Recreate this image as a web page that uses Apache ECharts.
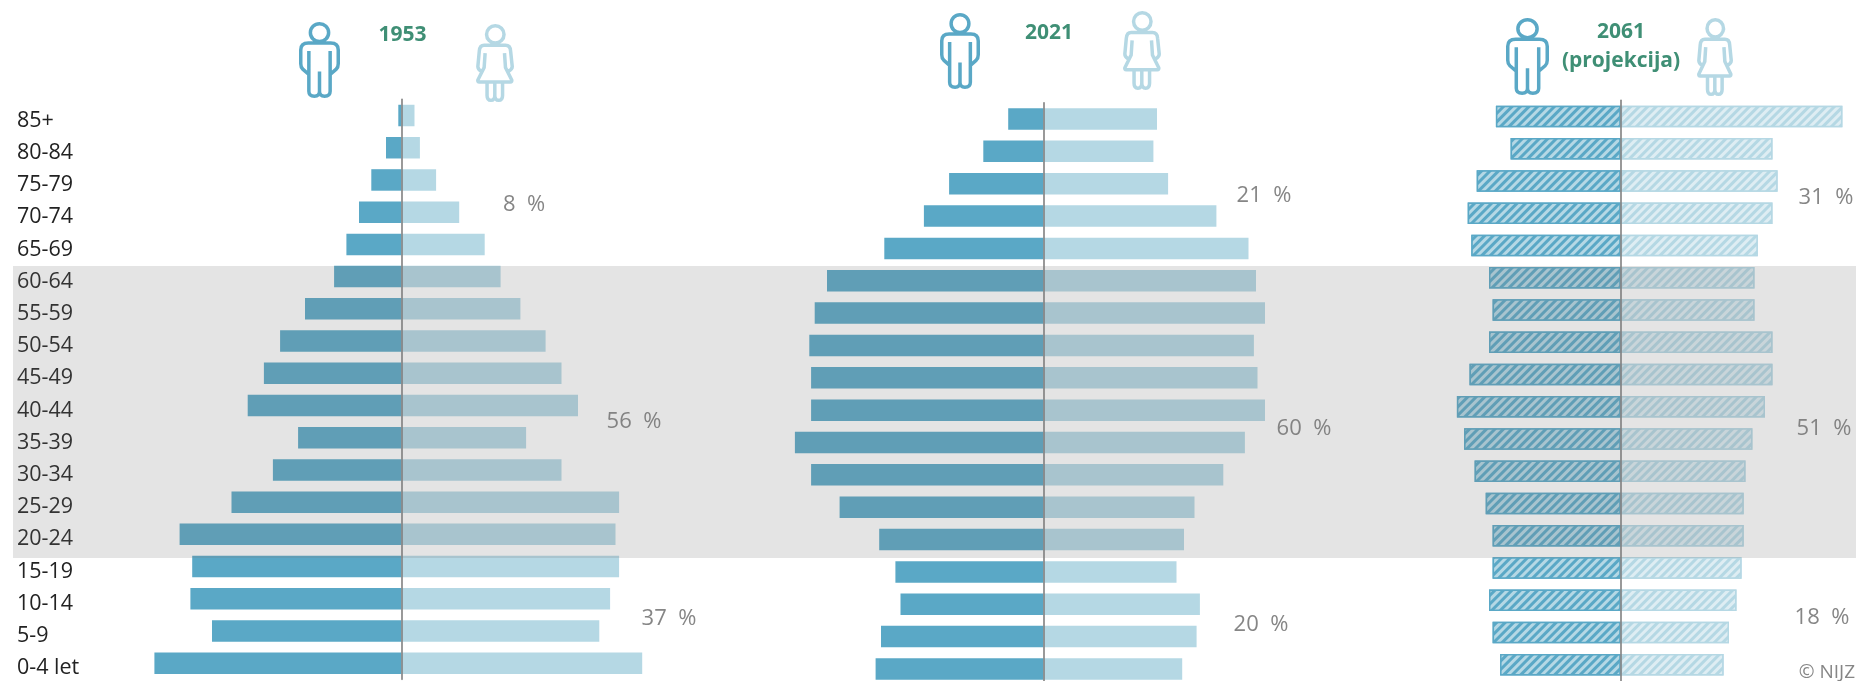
<!DOCTYPE html>
<html>
<head>
<meta charset="utf-8">
<title>Starostne piramide</title>
<style>
html, body { margin: 0; padding: 0; background: #fff; }
#chart { width: 1856px; height: 681px; }
</style>
<script src="https://cdn.jsdelivr.net/npm/echarts@6/dist/echarts.min.js"></script>
</head>
<body>
<div id="chart"></div>
<script>
// starostne skupine, od zgoraj navzdol
var ageGroups = ["85+", "80-84", "75-79", "70-74", "65-69", "60-64", "55-59", "50-54", "45-49",
    "40-44", "35-39", "30-34", "25-29", "20-24", "15-19", "10-14", "5-9", "0-4 let"];

// odčitano s slike, v tisočih prebivalcev
var men1953 = [1.0, 5.1, 10, 14.1, 18.3, 22.4, 32.1, 40.4, 45.8, 51.2, 34.4, 42.8, 56.6, 73.9, 69.7, 70.3, 63.1, 82.3];
var women1953 = [4.4, 6.2, 11.6, 19.3, 27.8, 33.1, 39.7, 48.1, 53.4, 58.9, 41.6, 53.4, 72.6, 71.4, 72.6, 69.6, 66, 80.3];
var men2021 = [11.7, 20, 31.4, 39.8, 53, 72.1, 76.2, 78, 77.4, 77.4, 82.8, 77.4, 67.9, 54.7, 49.3, 47.6, 54.1, 55.9];
var women2021 = [37.9, 36.7, 41.6, 57.7, 68.4, 70.9, 73.9, 70.2, 71.4, 73.9, 67.2, 60, 50.4, 46.9, 44.4, 52.2, 51.1, 46.3];
var men2061 = [41.6, 36.7, 48, 51, 49.8, 43.9, 42.7, 43.9, 50.4, 54.6, 52.2, 48.7, 45, 42.7, 42.7, 43.9, 42.7, 40.2];
var women2061 = [73.9, 50.6, 52.3, 50.6, 45.7, 44.6, 44.6, 50.6, 50.6, 48.1, 43.9, 41.6, 41, 41, 40.3, 38.6, 36.1, 34.3];

var shareLabels = ["8  %", "56  %", "37  %", "21  %", "60  %", "20  %", "31  %", "51  %", "18  %"];
var yearLabels = ["1953", "2021", "2061", "(projekcija)"];

var FONT = '"Open Sans", "Noto Sans", sans-serif';
var MAN_COLOR = "#5aa8c6";
var WOMAN_COLOR = "#b5d8e4";
var UNIT_PX = 3;  // 1 tisoč = 3 px, enako na vseh treh piramidah
var HALF_RANGE = 90;

var MAN_PATH = "M29 10.5a9 9 0 1 1-18 0a9 9 0 1 1 18 0Z" +
    "M9.5 53L3.5 47.5Q1.5 45.5 1.5 42L1.5 28Q1.5 21 9 21L31 21Q38.5 21 38.5 28L38.5 42Q38.5 45.5 36.5 47.5L30.5 53" +
    "L30.5 70Q30.5 75 25 75Q20 75 20 70Q20 75 15 75Q9.5 75 9.5 70Z" +
    "M9.5 29V53M30.5 29V53M20 50V70";
var WOMAN_PATH = "M28.5 9.7a9 9 0 1 1-18 0a9 9 0 1 1 18 0Z" +
    "M8 21L30 21Q35 21 35.3 27L37 43Q37 46 33 48M8 21Q3.5 21 3 27L1.5 43Q1.5 46 5 48" +
    "M9 29L8 44L1.5 57Q1 59 3 59L35 59Q37 59 36.5 57L30 44L29 29" +
    "M11 59V73Q11 78 15 78Q19 78 19 73V59M19 73Q19 78 23 78Q27 78 27 73V59";

var panels = [
    {men: men1953, women: women1953, axisX: 401.3, top: 99.4, rowH: 32.22},
    {men: men2021, women: women2021, axisX: 1043.3, top: 102.8, rowH: 32.35},
    {men: men2061, women: women2061, axisX: 1620.7, top: 100.4, rowH: 32.25, hatched: true}
];

function negate(list) {
    return list.map(function (v) { return -v; });
}

function barStyle(color, hatched) {
    var style = {color: color};
    if (hatched) {
        style.borderColor = color;
        style.borderWidth = 1.5;
        style.decal = {
            symbol: "rect",
            color: "rgba(255,255,255,0.55)",
            dashArrayX: [1, 0],
            dashArrayY: [2.7, 2.5],
            rotation: -Math.PI / 4
        };
    }
    return style;
}

var grids = [], xAxes = [], yAxes = [], seriesList = [];
panels.forEach(function (p, i) {
    var gridLeft = p.axisX - HALF_RANGE * UNIT_PX;
    grids.push({
        outerBoundsMode: "none",  // echarts 6 sicer skrči mrežo zaradi oznak
        left: gridLeft,
        top: p.top,
        width: 2 * HALF_RANGE * UNIT_PX,
        height: p.rowH * ageGroups.length
    });
    xAxes.push({gridIndex: i, type: "value", min: -HALF_RANGE, max: HALF_RANGE, show: false});
    yAxes.push({
        gridIndex: i,
        type: "category",
        inverse: true,
        data: ageGroups,
        z: 10,
        axisTick: {show: false},
        axisLine: {show: true, onZero: true, lineStyle: {color: "#808080", width: 1.6}},
        axisLabel: {
            show: i === 0,
            interval: 0,
            align: "left",
            margin: gridLeft - 17,  // oznake so ob levem robu slike
            verticalAlign: "top",   // malo nižje od sredine stolpca
            lineHeight: 10,
            color: "#222",
            fontFamily: FONT,
            fontSize: 21.5
        }
    });
    seriesList.push({
        name: "Moški",
        type: "bar",
        stack: "p" + i,
        xAxisIndex: i,
        yAxisIndex: i,
        barWidth: 21.5,
        silent: true,
        data: negate(p.men),
        itemStyle: barStyle(MAN_COLOR, p.hatched)
    });
    seriesList.push({
        name: "Ženske",
        type: "bar",
        stack: "p" + i,
        xAxisIndex: i,
        yAxisIndex: i,
        barWidth: 21.5,
        silent: true,
        data: p.women,
        itemStyle: barStyle(WOMAN_COLOR, p.hatched)
    });
});

// ikoni moškega in ženske nad vsako piramido
var icons = [
    [MAN_PATH, MAN_COLOR, 299, 22, 41, 76],
    [WOMAN_PATH, WOMAN_COLOR, 476, 24, 38, 78],
    [MAN_PATH, MAN_COLOR, 940, 13, 40, 76],
    [WOMAN_PATH, WOMAN_COLOR, 1123, 11, 38, 79],
    [MAN_PATH, MAN_COLOR, 1506, 18, 43, 77],
    [WOMAN_PATH, WOMAN_COLOR, 1697, 18, 36, 78]
];
seriesList.push({
    type: "custom",
    coordinateSystem: "none",
    silent: true,
    z: 20,
    data: icons.map(function (d, i) { return [i]; }),
    renderItem: function (params) {
        var d = icons[params.dataIndex];
        return {
            type: "path",
            shape: {pathData: d[0], layout: "cover", x: d[2] + 1.75, y: d[3] + 1.75, width: d[4] - 3.5, height: d[5] - 3.5},
            style: {fill: "none", stroke: d[1], lineWidth: 3.5}
        };
    }
});

function title(text, x, y) {
    return {
        type: "text",
        z: 20,
        x: x,
        y: y,
        style: {text: text, fill: "#3f8f75", font: "bold 21px " + FONT, textAlign: "center", textVerticalAlign: "middle"}
    };
}

function share(text, x, y) {
    return {
        type: "text",
        z: 20,
        x: x,
        y: y,
        style: {text: text, fill: "#868686", font: "22px " + FONT, textAlign: "center", textVerticalAlign: "middle"}
    };
}

var sharePos = [[524, 205], [634, 422], [669, 619], [1264, 196], [1304, 429], [1261, 625], [1826, 198], [1824, 429], [1822, 618]];

var graphics = [
    title(yearLabels[0], 402.5, 35),
    title(yearLabels[1], 1049, 33),
    title(yearLabels[2], 1621, 32),
    title(yearLabels[3], 1621, 61),
    {
        type: "text",
        z: 20,
        x: 1855,
        y: 673,
        style: {text: "© NIJZ", fill: "#868686", font: "19px " + FONT, textAlign: "right", textVerticalAlign: "middle"}
    },
    // siv pas 20-64 let prekrije tudi stolpce, zato je polprosojen in nad njimi
    {
        type: "rect",
        z: 30,
        silent: true,
        shape: {x: 13, y: 266, width: 1843, height: 292},
        style: {fill: "rgba(122,122,122,0.2)"}
    }
];
shareLabels.forEach(function (t, i) {
    graphics.push(share(t, sharePos[i][0], sharePos[i][1]));
});

var chart = echarts.init(document.getElementById("chart"));
chart.setOption({
    animation: false,
    backgroundColor: "#fff",
    textStyle: {fontFamily: FONT},
    grid: grids,
    xAxis: xAxes,
    yAxis: yAxes,
    series: seriesList,
    graphic: {elements: graphics}
});
</script>
</body>
</html>
